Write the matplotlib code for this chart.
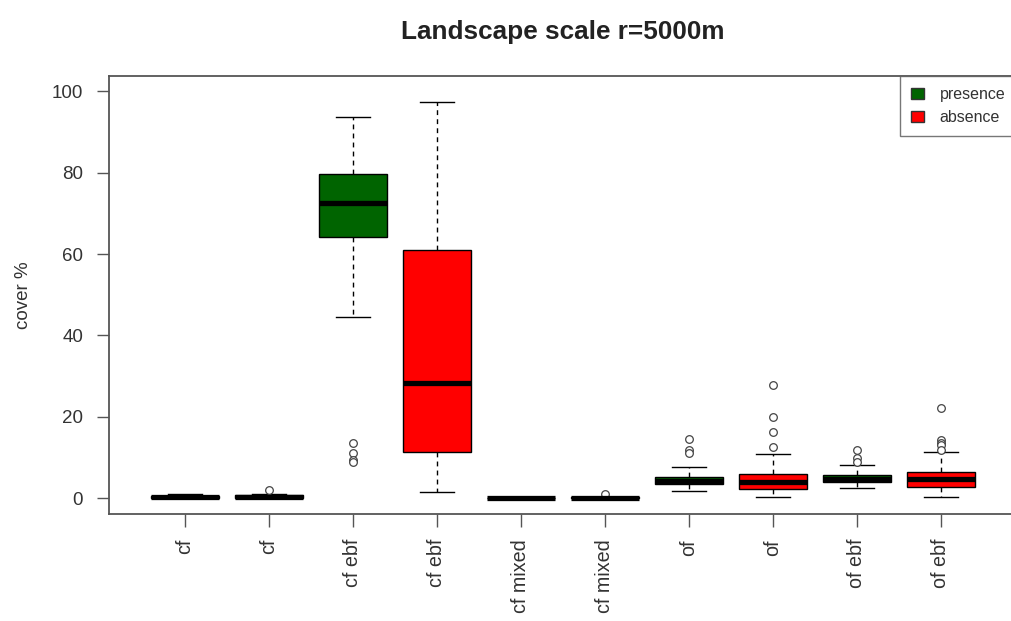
import matplotlib
matplotlib.use("Agg")
import matplotlib.pyplot as plt
from matplotlib.patches import Patch

plt.rcParams['font.family'] = ['Liberation Sans', 'DejaVu Sans']

# ---- data ----
labels = ["cf", "cf", "cf ebf", "cf ebf", "cf mixed", "cf mixed",
          "of", "of", "of ebf", "of ebf"]
groups = ["presence", "absence"] * 5
whislo = [0.0, 0.0, 44.5, 1.5, 0.0, 0.0, 1.7, 0.3, 2.5, 0.3]
q1     = [0.1, 0.1, 64.2, 11.3, 0.0, 0.0, 3.4, 2.2, 4.0, 2.7]
med    = [0.3, 0.3, 72.6, 28.3, 0.0, 0.1, 4.3, 3.9, 4.8, 4.6]
q3     = [0.6, 0.7, 79.7, 60.9, 0.1, 0.2, 5.2, 5.9, 5.6, 6.4]
whishi = [0.9, 1.0, 93.8, 97.3, 0.2, 0.4, 7.6, 10.8, 8.1, 11.3]
fliers = [[], [1.9], [13.5, 11.0, 9.5, 9.0], [], [], [1.0],
          [14.5, 11.8, 11.2], [27.8, 19.9, 16.2, 12.5],
          [11.8, 9.8, 8.8], [22.1, 14.3, 13.6, 13.1, 11.8]]
colors = {"presence": "#006400", "absence": "#FF0000"}

title = "Landscape scale r=5000m"
ylabel = "cover %"
yticks = [0, 20, 40, 60, 80, 100]

# ---- figure ----
W, H = 1011, 621
fig = plt.figure(figsize=(W / 100, H / 100), dpi=100)
left, right, top, bottom = 109.4, 1016.6, 76, 514
ax = fig.add_axes([left / W, 1 - bottom / H, (right - left) / W, (bottom - top) / H])

stats = []
for i in range(len(labels)):
    stats.append(dict(label=labels[i], whislo=whislo[i], q1=q1[i], med=med[i],
                      q3=q3[i], whishi=whishi[i], fliers=fliers[i]))

positions = list(range(1, len(labels) + 1))
bp = ax.bxp(stats, positions=positions, widths=0.8, capwidths=0.4,
            patch_artist=True, manage_ticks=False,
            boxprops=dict(edgecolor="black", linewidth=1.0),
            medianprops=dict(color="black", linewidth=3.8, solid_capstyle="butt"),
            whiskerprops=dict(color="black", linestyle=(0, (3.5, 3)), linewidth=1.0),
            capprops=dict(color="black", linewidth=1.0),
            flierprops=dict(marker="o", markerfacecolor="white",
                            markeredgecolor="#444444", markersize=5.5,
                            markeredgewidth=0.9))
for patch, g in zip(bp["boxes"], groups):
    patch.set_facecolor(colors[g])

ax.set_xlim(0.1, 10.9)
ax.set_ylim(-3.9, 103.8)

txtcol = "#333333"
ax.set_xticks(positions)
ax.set_xticklabels(labels, rotation=90, fontsize=14.2, color=txtcol)
ax.set_yticks(yticks)
ax.set_yticklabels([str(v) for v in yticks], fontsize=13.5, color=txtcol)
ax.tick_params(axis="x", length=9, width=1.0, color="#555555", pad=9)
ax.tick_params(axis="y", length=9, width=1.0, color="#555555", pad=10)

for s in ax.spines.values():
    s.set_color("#555555")
    s.set_linewidth(1.3)

ax.set_ylabel(ylabel, fontsize=13.5, color=txtcol, labelpad=14)
ax.set_title(title, fontsize=18.8, fontweight="bold", color="#222222", pad=27)

handles = [Patch(facecolor=colors["presence"], edgecolor="#333333", label="presence"),
           Patch(facecolor=colors["absence"], edgecolor="#333333", label="absence")]
leg = ax.legend(handles=handles, loc="upper right", fontsize=11.5, frameon=True,
                fancybox=False, edgecolor="#555555", borderaxespad=0.0,
                handlelength=0.85, handleheight=0.65, handletextpad=0.95,
                labelspacing=0.5, borderpad=0.7, labelcolor=txtcol)
leg.get_frame().set_linewidth(1.0)

fig.savefig("out.png", dpi=100)
